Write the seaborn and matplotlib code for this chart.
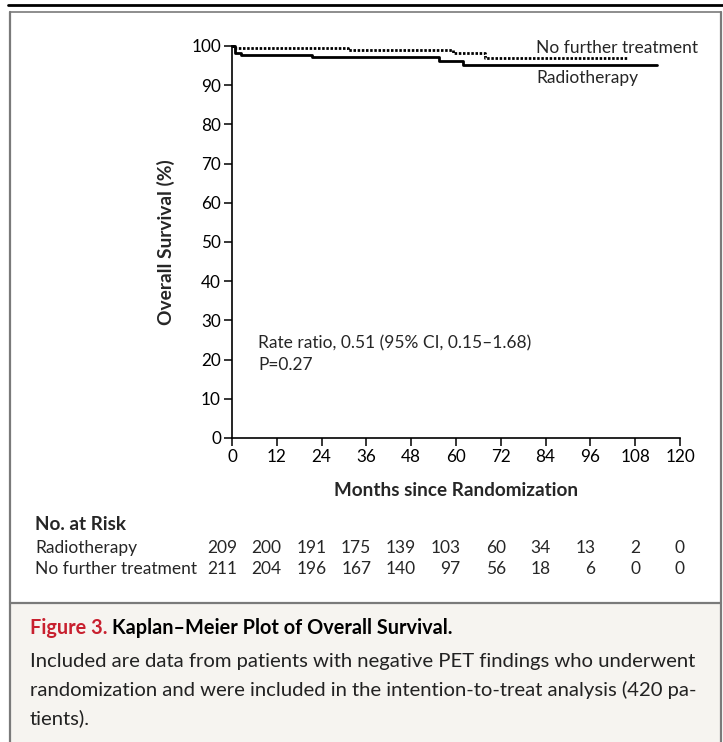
import matplotlib
matplotlib.use('Agg')
import matplotlib.pyplot as plt
import matplotlib.transforms as mtransforms
from matplotlib.patches import Rectangle
from matplotlib.lines import Line2D
import seaborn as sns
import pandas as pd

# Data
radio_months = [0, 0.8, 2.5, 21.4, 55.5, 62.0, 113.8]
radio_surv = [100, 98.2, 97.7, 97.2, 96.3, 95.2, 95.2]
nofurther_months = [0, 0.5, 31.0, 59.2, 67.8, 105.8]
nofurther_surv = [100, 99.6, 99.1, 98.2, 96.9, 96.9]

risk_months = [0, 12, 24, 36, 48, 60, 72, 84, 96, 108, 120]
risk_radio = [209, 200, 191, 175, 139, 103, 60, 34, 13, 2, 0]
risk_nofurther = [211, 204, 196, 167, 140, 97, 56, 18, 6, 0, 0]

x_ticks = list(range(0, 121, 12))
y_ticks = list(range(0, 101, 10))

W, H = 723, 742
FONT = ['Lato', 'DejaVu Sans']
RED = '#c8202f'
BORDER = '#7a7a7a'
CAPTION_BG = '#f6f4f0'

sns.set_theme(style='white')
plt.rcParams['font.family'] = FONT


def fx(px):
    return px / W


def fy(py):
    return 1 - py / H


fig = plt.figure(figsize=(W / 100, H / 100), dpi=100)
fig.patch.set_facecolor('white')

# Frame, caption background, top rule
fig.patches.append(Rectangle((fx(10), fy(742)), fx(711) - fx(0), fy(603) - fy(742),
                             transform=fig.transFigure, facecolor=CAPTION_BG,
                             edgecolor='none', zorder=0))
fig.lines.append(Line2D([fx(10), fx(10)], [fy(12), fy(742)], transform=fig.transFigure,
                        color=BORDER, lw=1.6))
fig.lines.append(Line2D([fx(721), fx(721)], [fy(12), fy(742)], transform=fig.transFigure,
                        color=BORDER, lw=1.6))
fig.lines.append(Line2D([fx(10), fx(721)], [fy(12), fy(12)], transform=fig.transFigure,
                        color=BORDER, lw=1.2))
fig.lines.append(Line2D([fx(10), fx(721)], [fy(603), fy(603)], transform=fig.transFigure,
                        color=BORDER, lw=1.6))
fig.lines.append(Line2D([fx(8), fx(723)], [fy(5), fy(5)], transform=fig.transFigure,
                        color='black', lw=2.0))

# Main axes
ax = fig.add_axes([fx(232), fy(438), fx(680) - fx(232), fy(46) - fy(438)])
ax.set_facecolor('none')

df_r = pd.DataFrame({'month': radio_months, 'surv': radio_surv})
df_n = pd.DataFrame({'month': nofurther_months, 'surv': nofurther_surv})
sns.lineplot(data=df_r, x='month', y='surv', ax=ax, color='black', lw=2.0,
             drawstyle='steps-post', estimator=None, clip_on=False)
sns.lineplot(data=df_n, x='month', y='surv', ax=ax, color='black', lw=2.0,
             linestyle=(0, (0.9, 0.6)), drawstyle='steps-post', estimator=None,
             clip_on=False)

ax.set_xlim(0, 120)
ax.set_ylim(0, 100)
ax.set_xticks(x_ticks)
ax.set_yticks(y_ticks)
ax.tick_params(axis='both', direction='out', length=6, width=1.1, color='black',
               labelsize=12.3, labelcolor='black', pad=2)
ax.tick_params(axis='x', bottom=True)
ax.tick_params(axis='y', left=True)
for s in ['top', 'right']:
    ax.spines[s].set_visible(False)
for s in ['left', 'bottom']:
    ax.spines[s].set_color('black')
    ax.spines[s].set_linewidth(1.2)
ax.set_xlabel('')
ax.set_ylabel('')

ax.text(81.4, 99.6, 'No further treatment', fontsize=12.5, va='center', ha='left',
        clip_on=False)
ax.text(81.4, 91.8, 'Radiotherapy', fontsize=12.5, va='center', ha='left', clip_on=False)
ax.text(7.0, 24.2, 'Rate ratio, 0.51 (95% CI, 0.15\u20131.68)', fontsize=12.5,
        va='center', ha='left')
ax.text(7.0, 18.6, 'P=0.27', fontsize=12.5, va='center', ha='left')

fig.text(fx(456), fy(490), 'Months since Randomization', fontsize=13.6,
         fontweight='bold', ha='center', va='center')
fig.text(fx(166), fy(242), 'Overall Survival (%)', fontsize=13.8, fontweight='bold',
         ha='center', va='center', rotation=90)

# Number at risk table
blend = mtransforms.blended_transform_factory(ax.transData, fig.transFigure)
fig.text(fx(35), fy(524), 'No. at Risk', fontsize=13.6, fontweight='bold',
         ha='left', va='center')
fig.text(fx(35), fy(548), 'Radiotherapy', fontsize=12.5, ha='left', va='center')
fig.text(fx(35), fy(569), 'No further treatment', fontsize=12.5, ha='left', va='center')
for m, a, b in zip(risk_months, risk_radio, risk_nofurther):
    ax.text(m + 1.3, fy(548), str(a), fontsize=12.5, ha='right', va='center',
            transform=blend, clip_on=False)
    ax.text(m + 1.3, fy(569), str(b), fontsize=12.5, ha='right', va='center',
            transform=blend, clip_on=False)

# Caption
t1 = fig.text(fx(30), fy(628), 'Figure 3.', fontsize=14.3, fontweight='bold', color=RED,
              ha='left', va='center')
fig.canvas.draw()
bb = t1.get_window_extent()
fig.text(bb.x1 / W + fx(5), fy(628), 'Kaplan\u2013Meier Plot of Overall Survival.',
         fontsize=14.3, fontweight='bold', color='black', ha='left', va='center')
body = ['Included are data from patients with negative PET findings who underwent',
        'randomization and were included in the intention-to-treat analysis (420 pa-',
        'tients).']
for i, line in enumerate(body):
    fig.text(fx(30), fy(662 + i * 28), line, fontsize=14.6, color='#222222',
             ha='left', va='center')

fig.savefig('out.png', dpi=100)
